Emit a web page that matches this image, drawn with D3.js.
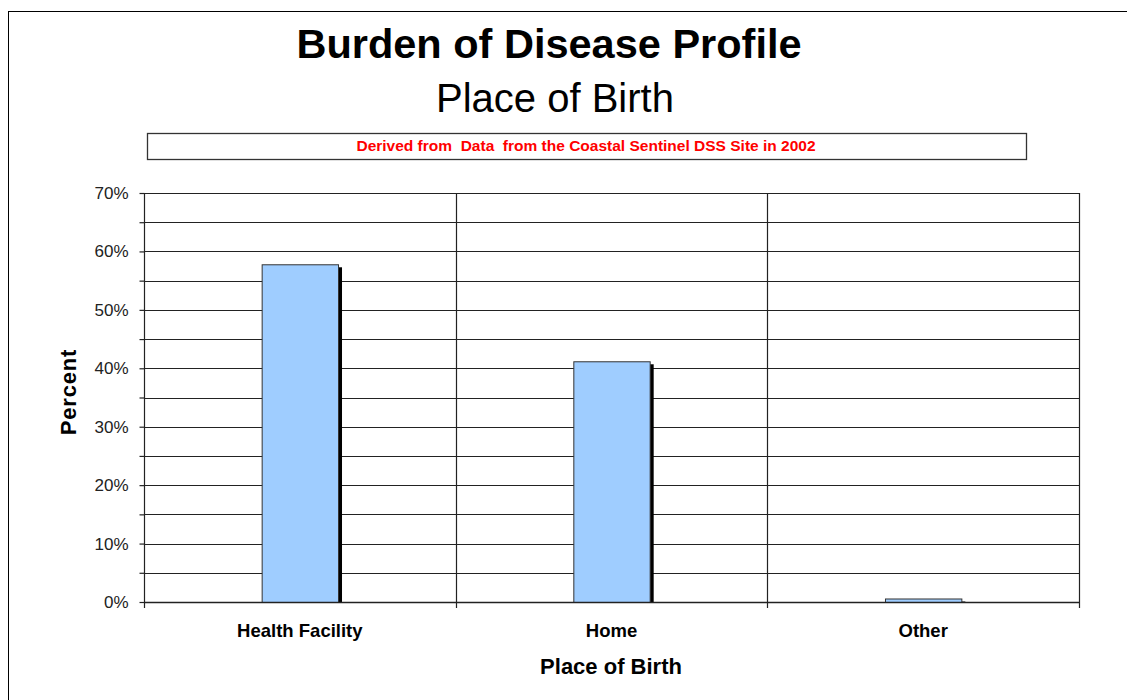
<!DOCTYPE html>
<html>
<head>
<meta charset="utf-8">
<script src="https://cdn.jsdelivr.net/npm/d3@7"></script>
<style>
  html, body { margin: 0; padding: 0; background: #fff; }
  svg { display: block; font-family: "Liberation Sans", Arial, sans-serif; }
</style>
</head>
<body>
<svg id="chart" width="1127" height="700"></svg>
<script>
const categories = ["Health Facility", "Home", "Other"];
const values = [57.8, 41.2, 0.6];
const yTickValues = [0, 10, 20, 30, 40, 50, 60, 70];
const gridValues = [5, 10, 15, 20, 25, 30, 35, 40, 45, 50, 55, 60, 65, 70];
const titleText = "Burden of Disease Profile";
const subtitleText = "Place of Birth";
const noteText = "Derived from  Data  from the Coastal Sentinel DSS Site in 2002";
const xTitle = "Place of Birth";
const yTitle = "Percent";

const svg = d3.select("#chart");
const m = { left: 144, right: 1079, top: 193, bottom: 602 };

// outer frame (right & bottom fall outside the picture)
svg.append("rect").attr("x", 8.5).attr("y", 11.5).attr("width", 1130).attr("height", 700)
  .attr("fill", "#fff").attr("stroke", "#000").attr("stroke-width", 1);

svg.append("text").attr("x", 549).attr("y", 58).attr("text-anchor", "middle")
  .attr("font-size", 41.5).attr("font-weight", "bold").attr("fill", "#000").text(titleText);
svg.append("text").attr("x", 555).attr("y", 112).attr("text-anchor", "middle")
  .attr("font-size", 40).attr("fill", "#000").text(subtitleText);

// note box
svg.append("rect").attr("x", 147.5).attr("y", 133.5).attr("width", 879).attr("height", 26)
  .attr("fill", "#fff").attr("stroke", "#333").attr("stroke-width", 1.3);
svg.append("text").attr("x", 586).attr("y", 151).attr("text-anchor", "middle")
  .attr("font-size", 15.5).attr("font-weight", "bold").attr("fill", "#ff0000")
  .style("white-space", "pre").text(noteText);

const x = d3.scaleBand().domain(categories).range([m.left, m.right]).padding(0);
const y = d3.scaleLinear().domain([0, 70]).range([m.bottom, m.top]);

const g = svg.append("g");

// horizontal grid lines
g.selectAll(".grid").data(gridValues).join("line")
  .attr("x1", m.left).attr("x2", m.right)
  .attr("y1", d => Math.round(y(d)) + 0.5).attr("y2", d => Math.round(y(d)) + 0.5)
  .attr("stroke", "#222").attr("stroke-width", 1.2);

// vertical category separators
const seps = categories.slice(1).map(c => x(c)).concat([m.right]);
g.selectAll(".sep").data(seps).join("line")
  .attr("x1", d => Math.round(d) + 0.5).attr("x2", d => Math.round(d) + 0.5)
  .attr("y1", m.top).attr("y2", m.bottom + 6)
  .attr("stroke", "#222").attr("stroke-width", 1.2);

// bars
const bw = x.bandwidth() * 0.245;
const bars = g.selectAll(".bar").data(categories).join("g");
bars.append("rect")
  .attr("x", (d, i) => x(d) + x.bandwidth() / 2 - bw / 2 + 4)
  .attr("y", (d, i) => y(values[i]) + 3)
  .attr("width", bw)
  .attr("height", (d, i) => Math.max(0, m.bottom - y(values[i]) - 3))
  .attr("fill", "#000");
bars.append("rect")
  .attr("x", (d, i) => x(d) + x.bandwidth() / 2 - bw / 2 + 0.5)
  .attr("y", (d, i) => y(values[i]) + 0.5)
  .attr("width", bw)
  .attr("height", (d, i) => m.bottom - y(values[i]))
  .attr("fill", "#9fcdff").attr("stroke", "#333").attr("stroke-width", 1);

// axes
const yAxis = d3.axisLeft(y).tickValues(gridValues.concat([0])).tickSize(5)
  .tickFormat(d => yTickValues.includes(d) ? d + "%" : "");
const ya = svg.append("g").attr("transform", `translate(${m.left + 0.5},0)`).call(yAxis);
ya.select(".domain").attr("stroke", "#222").attr("stroke-width", 1.2)
  .attr("d", `M0,${m.top}V${m.bottom + 6}`);
ya.selectAll(".tick line").attr("stroke", "#222").attr("stroke-width", 1.2);
ya.selectAll(".tick text").attr("x", -16).attr("font-size", 17).attr("fill", "#222")
  .attr("font-family", "'Liberation Sans', Arial, sans-serif");

const xAxis = d3.axisBottom(x).tickSize(0).tickPadding(27);
const xa = svg.append("g").attr("transform", `translate(0,${m.bottom + 0.5})`).call(xAxis);
xa.select(".domain").attr("stroke", "#222").attr("stroke-width", 1.4)
  .attr("d", `M${m.left},0H${m.right}`);
xa.selectAll(".tick text").attr("font-size", 18.5).attr("font-weight", "bold").attr("fill", "#000")
  .attr("dy", 0).attr("y", 34)
  .attr("font-family", "'Liberation Sans', Arial, sans-serif");

svg.append("text").attr("x", 611).attr("y", 674).attr("text-anchor", "middle")
  .attr("font-size", 22).attr("font-weight", "bold").attr("fill", "#000").text(xTitle);
svg.append("text").attr("transform", "translate(76,392) rotate(-90)").attr("text-anchor", "middle")
  .attr("font-size", 22).attr("font-weight", "bold").attr("letter-spacing", 0.8)
  .attr("fill", "#000").text(yTitle);
</script>
</body>
</html>
